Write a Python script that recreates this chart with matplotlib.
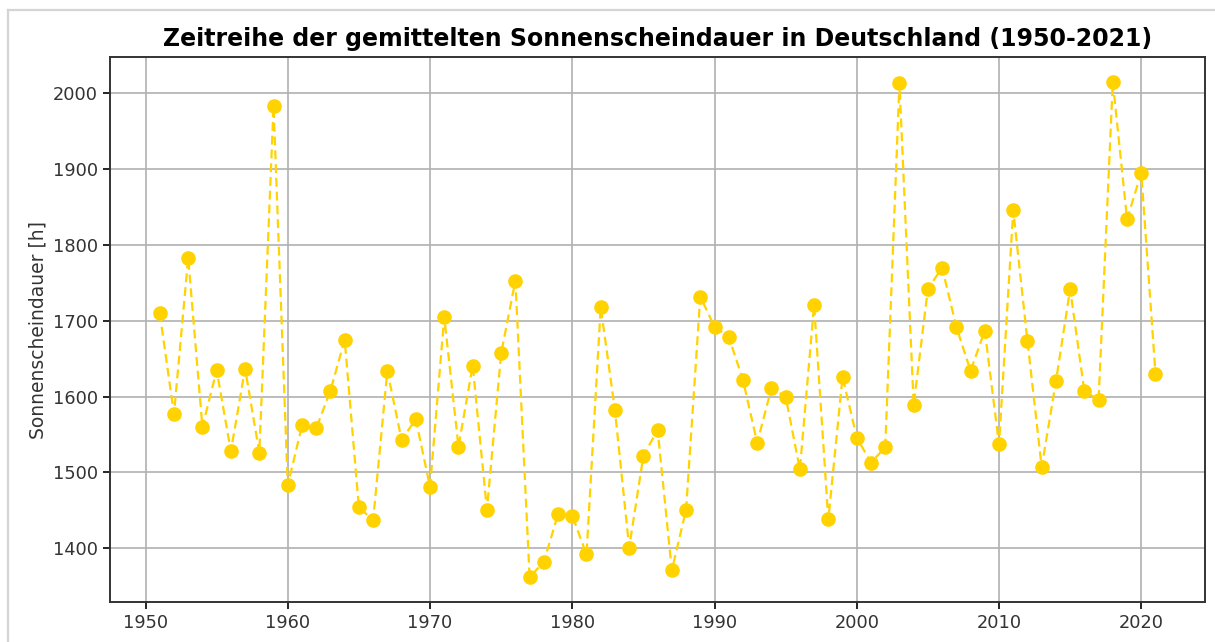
import matplotlib
matplotlib.use("Agg")
import matplotlib.pyplot as plt
from matplotlib.lines import Line2D

# Jahre und mittlere Sonnenscheindauer
jahre = list(range(1951, 2022))
sonnenschein = [
    1710, 1577, 1783, 1560, 1635, 1528, 1637, 1526, 1983, 1483,
    1562, 1558, 1608, 1675, 1454, 1437, 1634, 1543, 1570, 1481,
    1705, 1534, 1641, 1451, 1657, 1753, 1362, 1382, 1445, 1443,
    1392, 1718, 1582, 1401, 1522, 1556, 1371, 1451, 1732, 1692,
    1679, 1622, 1539, 1611, 1600, 1504, 1721, 1438, 1626, 1546,
    1513, 1533, 2013, 1589, 1742, 1770, 1692, 1634, 1687, 1537,
    1846, 1673, 1507, 1620, 1742, 1607, 1596, 2015, 1834, 1895,
    1630,
]
titel = "Zeitreihe der gemittelten Sonnenscheindauer in Deutschland (1950-2021)"

fig, ax = plt.subplots(figsize=(12.15, 6.42), dpi=100)
fig.subplots_adjust(left=0.0905, right=0.992, top=0.911, bottom=0.0625)

ax.plot(jahre, sonnenschein, linestyle="--", marker="o", color="#FFD200",
        linewidth=1.6, markersize=9.5, dashes=(4, 2.2))
ax.set_title(titel, fontsize=17, fontweight="bold", pad=8)
ax.set_ylabel("Sonnenscheindauer [h]", fontsize=13.5, color="#333333")
ax.grid(True, color="#b0b0b0", linewidth=1.2)
ax.tick_params(labelsize=12.8, length=5, width=1.2, labelcolor="#333333")
for s in ax.spines.values():
    s.set_linewidth(1.4)
    s.set_color("#333333")

# grauer Rahmen wie im Notebook-Screenshot
W, H = 1215, 642
fig.add_artist(Line2D([8 / W, 8 / W], [0, 1 - 10 / H], transform=fig.transFigure,
                      color="#d4d4d4", linewidth=1.6))
fig.add_artist(Line2D([8 / W, 1], [1 - 10 / H, 1 - 10 / H], transform=fig.transFigure,
                      color="#d4d4d4", linewidth=1.6))

fig.savefig("out.png", dpi=100)
